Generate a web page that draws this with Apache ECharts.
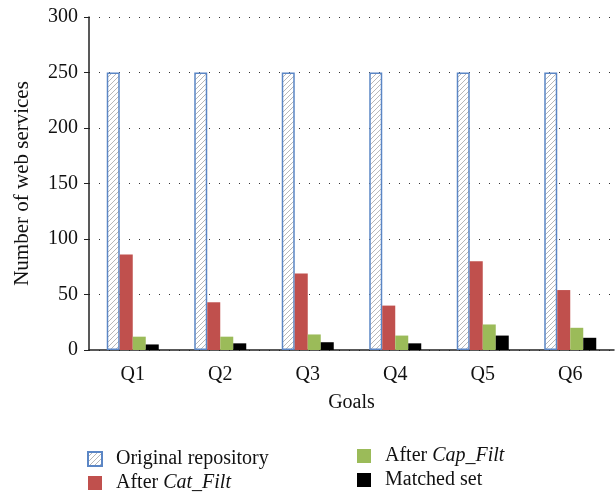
<!DOCTYPE html>
<html>
<head>
<meta charset="utf-8">
<script src="https://cdn.jsdelivr.net/npm/echarts@6/dist/echarts.min.js"></script>
<style>
  html, body { margin: 0; padding: 0; background: #fff; }
  #chart { width: 615px; height: 494px; }
</style>
</head>
<body>
<div id="chart"></div>
<script>
  var goals = ['Q1', 'Q2', 'Q3', 'Q4', 'Q5', 'Q6']
  var original = [250, 250, 250, 250, 250, 250]
  var catFilt = [86, 43, 69, 40, 80, 54]
  var capFilt = [12, 12, 14, 13, 23, 20]
  var matched = [5, 6, 7, 6, 13, 11]
  var yTicks = [0, 50, 100, 150, 200, 250, 300]

  // diagonal hatch for the original repository bars
  function hatch () {
    var c = document.createElement('canvas')
    c.width = 5
    c.height = 5
    var ctx = c.getContext('2d')
    ctx.fillStyle = '#fff'
    ctx.fillRect(0, 0, 5, 5)
    ctx.strokeStyle = '#a6a6a6'
    ctx.lineWidth = 0.8
    ctx.beginPath()
    ctx.moveTo(0, 5); ctx.lineTo(5, 0)
    ctx.moveTo(-1, 1); ctx.lineTo(1, -1)
    ctx.moveTo(4, 6); ctx.lineTo(6, 4)
    ctx.stroke()
    return c
  }

  var font = 'Liberation Serif'
  var chart = echarts.init(document.getElementById('chart'))

  var legendText = {
    fontFamily: font,
    fontSize: 20,
    color: '#111',
    padding: [0, 0, 0, 9],
    rich: {
      n: { fontFamily: font, fontSize: 20, color: '#111' },
      i: { fontFamily: font, fontSize: 20, color: '#111', fontStyle: 'italic' }
    }
  }
  function legendFmt (name) {
    if (name === 'After Cat_Filt') return '{n|After }{i|Cat_Filt}'
    if (name === 'After Cap_Filt') return '{n|After }{i|Cap_Filt}'
    return '{n|' + name + '}'
  }

  chart.setOption({
    animation: false,
    grid: { left: 89, right: 1, top: 17, bottom: 144, outerBoundsMode: 'none' },
    legend: [
      {
        data: ['Original repository', 'After Cat_Filt'],
        orient: 'vertical',
        left: 87,
        top: 449,
        height: 45,
        padding: 0,
        itemWidth: 14,
        itemHeight: 14,
        itemGap: 4,
        icon: 'rect',
        formatter: legendFmt,
        textStyle: legendText
      },
      {
        data: ['After Cap_Filt', 'Matched set'],
        orient: 'vertical',
        left: 357,
        top: 446,
        height: 48,
        padding: 0,
        itemWidth: 14,
        itemHeight: 14,
        itemGap: 4,
        icon: 'rect',
        formatter: legendFmt,
        textStyle: legendText
      }
    ],
    xAxis: {
      type: 'category',
      data: goals,
      name: 'Goals',
      nameLocation: 'middle',
      nameGap: 43,
      nameTextStyle: { fontFamily: font, fontSize: 20, color: '#111' },
      axisLine: { lineStyle: { color: '#222', width: 1.5 } },
      axisTick: { show: false },
      axisLabel: { fontFamily: font, fontSize: 20, color: '#111', margin: 15 }
    },
    yAxis: {
      type: 'value',
      min: 0,
      max: 300,
      interval: 50,
      name: 'Number of web services',
      nameLocation: 'middle',
      nameGap: 56,
      nameTextStyle: { fontFamily: font, fontSize: 21, color: '#111' },
      axisLine: { show: true, lineStyle: { color: '#222', width: 1.5 } },
      axisTick: { show: true, inside: false, length: 5, lineStyle: { color: '#222' } },
      axisLabel: {
        fontFamily: font,
        fontSize: 20,
        color: '#111',
        margin: 11,
        formatter: function (v) { return yTicks.indexOf(v) >= 0 ? String(v) : '' }
      },
      splitLine: { show: true, lineStyle: { color: '#333', type: [1, 9], width: 1 } }
    },
    series: [
      {
        name: 'Original repository',
        type: 'bar',
        data: original,
        barWidth: 13,
        barGap: 0,
        itemStyle: {
          color: { image: hatch(), repeat: 'repeat' },
          borderColor: '#5b86c5',
          borderWidth: 1.5
        }
      },
      {
        name: 'After Cat_Filt',
        type: 'bar',
        data: catFilt,
        barWidth: 13,
        barGap: 0,
        itemStyle: { color: '#c0504d' }
      },
      {
        name: 'After Cap_Filt',
        type: 'bar',
        data: capFilt,
        barWidth: 13,
        barGap: 0,
        itemStyle: { color: '#9bbb59' }
      },
      {
        name: 'Matched set',
        type: 'bar',
        data: matched,
        barWidth: 13,
        barGap: 0,
        itemStyle: { color: '#000' }
      }
    ]
  })
</script>
</body>
</html>
